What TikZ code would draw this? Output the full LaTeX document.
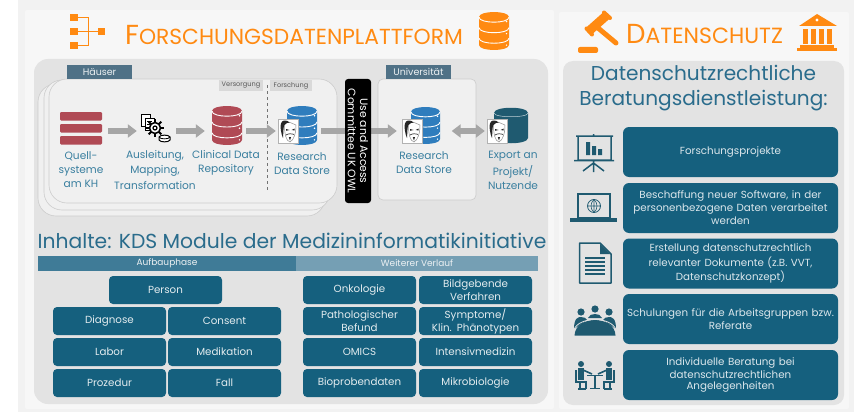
\documentclass[tikz,border=0pt]{standalone}
\usepackage{fontspec}
\setmainfont{Poppins}
\usetikzlibrary{arrows.meta}
\definecolor{orng}{HTML}{FF8A12}
\definecolor{teal}{HTML}{15607E}
\definecolor{labelc}{HTML}{3A7F9F}
\definecolor{titlec}{HTML}{2A6C8C}
\definecolor{tagc}{HTML}{4F7186}
\definecolor{redc}{HTML}{B04A55}
\definecolor{bluec}{HTML}{2F7DBD}
\definecolor{darkt}{HTML}{1F5A70}
\newcommand{\fs}[1]{\fontsize{#1}{#1}\selectfont}
\newcommand{\dbicon}[5]{% x0 y0 x1 y1 colour
  \pgfmathsetmacro{\xa}{#1}\pgfmathsetmacro{\ya}{#2}\pgfmathsetmacro{\xb}{#3}\pgfmathsetmacro{\yb}{#4}
  \pgfmathsetmacro{\kk}{(\xb-\xa)*0.17}\pgfmathsetmacro{\cc}{\kk*1.33}
  \fill[#5] (\xa,\ya+\kk) .. controls (\xa,\ya+\kk-\cc) and (\xb,\ya+\kk-\cc) .. (\xb,\ya+\kk)
    -- (\xb,\yb-\kk) .. controls (\xb,\yb-\kk+\cc) and (\xa,\yb-\kk+\cc) .. (\xa,\yb-\kk) -- cycle;
  \foreach \f in {0.0,0.32,0.64}{
    \pgfmathsetmacro{\yy}{\ya+\kk+\f*(\yb-\ya-\kk)}
    \draw[white,line width=0.9pt] (\xa,\yy) .. controls (\xa,\yy+\cc) and (\xb,\yy+\cc) .. (\xb,\yy);
  }
  \foreach \f in {0.25,0.57,0.87}{
    \fill[white] (\xb-2.5,{\ya+\f*(\yb-\ya)}) circle[radius=0.8];
  }
}
\newcommand{\maskicon}[2]{% top-left
  \begin{scope}[shift={(#1,#2)}]
    \fill[white] (0,0) rectangle (20,24);
    \draw[black!30,line width=0.5pt] (0,0) rectangle (20,24);
    \fill[black!85] (6,1.5) .. controls (2.5,2) and (2,7) .. (3,12) .. controls (3.5,15) and (4,17) .. (5,19)
      .. controls (5.5,14) and (5,9) .. (6.5,6) .. controls (8,4) and (10,3.5) .. (12,3.5) .. controls (10,2) and (8,1.2) .. (6,1.5) -- cycle;
    \draw[black!45,line width=0.5pt] (6.5,6) .. controls (6.5,15) and (8,22) .. (12,23) .. controls (16,21) and (18,14) .. (18,6) (12,3.5) -- (18,6);
    \fill[black!85] (8,10) -- (11.5,11) -- (8,11.8) -- cycle;
    \fill[black!85] (16.5,9.5) -- (13.5,11) -- (16.5,11.5) -- cycle;
    \draw[black!80,line width=0.7pt] (8,16) .. controls (10,14.5) and (14,14.5) .. (16,15.5);
    \fill[black!85] (10.8,18) -- (13,18) -- (12,21.5) -- cycle;
  \end{scope}
}
\tikzset{
  modbox/.style={fill=teal,rounded corners=4pt,text=white!88!teal,align=center,inner sep=0pt,font=\fs{10.3},text width=#1-4pt,minimum height=28pt,minimum width=#1},
  modbox/.default=113pt,
  lbl/.style={text=labelc,align=center,inner sep=0pt,font=\fs{10.6}},
  tag/.style={fill=tagc,text=white!90!tagc,inner sep=0pt,minimum height=14pt,font=\fs{9.5}},
  graytag/.style={fill=black!15,text=black!65,inner sep=0pt,minimum height=11pt,font=\fs{6.6}},
  stackbox/.style={fill=black!6,draw=black!20,line width=0.6pt,rounded corners=18pt},
  flow/.style={draw=black!35,line width=6pt,-{Triangle[length=9pt,width=13pt]}},
  flowboth/.style={draw=black!35,line width=6pt,{Triangle[length=9pt,width=13pt]}-{Triangle[length=9pt,width=13pt]}},
  iconnode/.style={inner sep=0pt,minimum height=26pt},
  orangehead/.style={text=orng,inner sep=0pt,anchor=west},
  rbox/.style={fill=teal,rounded corners=6pt,text=white!85!teal,align=center,inner sep=0pt,font=\fs{10.3},minimum width=215pt,minimum height=50pt,text width=214pt},
}
\begin{document}
\begin{tikzpicture}[x=1pt,y=-1pt]
\useasboundingbox (0,0) rectangle (854,412);
\fill[white] (0,0) rectangle (854,412);
\fill[black!5] (18,0) rectangle (854,412);
\fill[black!3,rounded corners=2pt] (25,10) rectangle (554,409);
\fill[black!3,rounded corners=2pt] (559,12) rectangle (849,409);
\fill[black!11,rounded corners=14pt] (34,59) rectangle (548,404);
\fill[black!11,rounded corners=10pt] (563,61) rectangle (844,405);

% header left
\foreach \y in {14,28,42}{\fill[orng] (70,\y) rectangle (78,\y+7);}
\fill[orng] (98,28) rectangle (105,35);
\draw[orng,line width=0.9pt] (78,17.5) -- (88,17.5) -- (88,45.5) -- (78,45.5) (78,31.5) -- (98,31.5);
\node[orangehead] (title1) at (125,35) {\fs{27.5}F\fs{21.8}ORSCHUNGSDATENPLATTFORM};
\dbicon{479}{12}{509}{50}{orng}

% header right
\node[orangehead] (title2) at (626,34) {\fs{27.5}D\fs{22}ATENSCHUTZ};
\draw[orng,line width=5pt,line cap=round] (598,28) -- (616,43);
\draw[orng,line width=9pt] (589,31) -- (607,15);
\draw[orng,line width=4pt,line cap=round] (586.5,28.5) -- (592,34.5);
\draw[orng,line width=4pt,line cap=round] (604,12.5) -- (610,18);
\fill[orng,rounded corners=2pt] (578,47) rectangle (598,53);
\fill[orng] (817,14) -- (837,26) -- (799,26) -- cycle;
\fill[white] (817,20) circle[radius=1.6];
\foreach \x in {803,811,819,827}{\fill[orng] (\x,29) rectangle (\x+5,44);}
\fill[orng] (800,45) rectangle (834,48);
\fill[orng] (797,48) rectangle (837,51);

% stacked houses
\draw[stackbox] (38,84) rectangle (325,216);
\draw[stackbox] (44,80) rectangle (330,210);
\draw[stackbox] (49,79) rectangle (337,203);
\node[tag,minimum width=65pt] (haeuser) at (99.5,72) {Häuser};
\node[graytag,minimum width=44pt] (versorgung) at (241,85.5) {Versorgung};
\node[graytag,minimum width=42pt] (forschung) at (291,85.5) {Forschung};
\coordinate (dashtop) at (267,85);
\coordinate (dashbot) at (267,192);
\draw[black!55,dashed,line width=0.7pt] (dashtop) -- (dashbot);
% university
\draw[fill=black!6,draw=black!20,line width=0.6pt,rounded corners=5pt] (378,79) rectangle (476,200);
\node[tag,minimum width=65pt] (uni) at (418.5,72) {Universität};

% icons as anchors
\node[iconnode,minimum width=42pt] (quell) at (81,131) {};
\foreach \y in {112,124,136}{\fill[redc,rounded corners=1.2pt] (60,\y) rectangle (102,\y+8.5);}
\node[iconnode,minimum width=31pt] (gears) at (154.5,131) {};
% gears icon
\draw[black,line width=0.8pt,fill=white] (141,114) rectangle (150,126);
\draw[black,line width=0.8pt,fill=white] (145,118) rectangle (154,130);
\draw[black,line width=0.6pt] (147,121) -- (152,121) (147,124) -- (152,124);
\foreach \a in {0,45,...,315}{
  \draw[black,line width=2pt] ({155+6*cos(\a)},{128+6*sin(\a)}) -- ({155+9*cos(\a)},{128+9*sin(\a)});
}
\draw[black,line width=1.6pt,fill=white] (155,128) circle[radius=5.5];
\draw[black,line width=1.2pt] (155,128) circle[radius=2];
\draw[black,line width=1pt,fill=white] (159,137) .. controls (160,134.5) and (169,134.5) .. (170,137) -- (170,140) .. controls (169,142.5) and (160,142.5) .. (159,140) -- cycle;
\draw[black,line width=0.8pt] (159,137) .. controls (160,139.5) and (169,139.5) .. (170,137);

\node[iconnode,minimum width=30pt] (cdr) at (227,131) {};
\dbicon{212}{106}{242}{145}{redc}
\node[iconnode,minimum width=30pt] (rds1) at (302,131) {};
\dbicon{287}{106}{317}{145}{bluec}
\node[iconnode,minimum width=20pt] (mask1) at (288,131) {};
\maskicon{278}{119}
\node[iconnode,minimum width=30pt] (rds2) at (425.5,131) {};
\dbicon{411}{107}{440}{144}{bluec}
\node[iconnode,minimum width=20pt] (mask2) at (412,131) {};
\maskicon{402}{119}
% export cylinder
\node[iconnode,minimum width=34pt] (export) at (511,131) {};
\fill[darkt] (494,113) .. controls (494,106) and (528,106) .. (528,113) -- (528,138) .. controls (528,145) and (494,145) .. (494,138) -- cycle;
\draw[white!70!darkt,line width=0.5pt] (494,113) .. controls (494,118) and (528,118) .. (528,113);
\node[iconnode,minimum width=20pt] (mask3) at (497,131) {};
\maskicon{487}{119}

% arrows
\draw[flow,shorten <=6pt,shorten >=2pt] (quell) -- (gears);
\draw[flow,shorten <=6pt,shorten >=7pt] (gears) -- (cdr);
\draw[flow,shorten <=4pt,shorten >=2pt] (cdr) -- (mask1);
\draw[flow,shorten <=4pt,shorten >=5pt] (rds1) -- (mask2);
\draw[flowboth,shorten <=11pt,shorten >=2pt] (rds2) -- (mask3);

% committee box
\node[fill=black,text=white,rounded corners=3pt,rotate=-90,minimum width=124pt,minimum height=26pt,inner sep=0pt,align=center,font=\fs{10.8}] (committee) at (358,141) {Use and Access\\[1.5pt]Committee UK OWL};

% labels
\node[lbl] (l1) at (81,170) {Quell-\\[3.4pt]systeme\\[3.4pt]am KH};
\node[lbl] (l2) at (155,170) {Ausleitung,\\[3.4pt]Mapping,\\[3.4pt]Transformation};
\node[lbl] (l3) at (226,163) {Clinical Data\\[3.4pt]Repository};
\node[lbl] (l4) at (302,164) {Research\\[3.4pt]Data Store};
\node[lbl] (l5) at (424,163) {Research\\[3.4pt]Data Store};
\node[lbl] (l6) at (513,170) {Export an\\[3.4pt]Projekt/\\[3.4pt]Nutzende};

% Inhalte
\node[text=titlec,inner sep=0pt,font=\fs{20.3}] (inhalte) at (292,241) {Inhalte: KDS Module der Medizininformatikinitiative};
\fill[titlec!90!white] (38,256) rectangle (296,271);
\fill[titlec!65!white] (296,256) rectangle (538,271);
\node[text=white!90!tagc,font=\fs{9},inner sep=0pt] (aufbau) at (167,263.5) {Aufbauphase};
\node[text=white!90!tagc,font=\fs{9},inner sep=0pt] (weiter) at (417,263.5) {Weiterer Verlauf};

\node[modbox] (person) at (165.5,290) {Person};
\node[modbox] (diagnose) at (109.5,321) {Diagnose};
\node[modbox] (consent) at (224.5,321) {Consent};
\node[modbox] (labor) at (109.5,352) {Labor};
\node[modbox] (medikation) at (224.5,352) {Medikation};
\node[modbox] (prozedur) at (109.5,383) {Prozedur};
\node[modbox] (fall) at (224.5,383) {Fall};
\node[modbox] (onko) at (359.5,290) {Onkologie};
\node[modbox] (bild) at (475.5,290) {Bildgebende\\[1.5pt]Verfahren};
\node[modbox] (patho) at (359.5,321) {Pathologischer\\[1.5pt]Befund};
\node[modbox] (sympt) at (475.5,321) {Symptome/\\[1.5pt]Klin. Phänotypen};
\node[modbox] (omics) at (359.5,352) {OMICS};
\node[modbox] (intensiv) at (475.5,352) {Intensivmedizin};
\node[modbox] (biop) at (359.5,383) {Bioprobendaten};
\node[modbox] (mikro) at (475.5,383) {Mikrobiologie};

% right panel
\node[text=titlec,inner sep=0pt,align=center,font=\fs{20.1}] (rtitle) at (703.5,88) {Datenschutzrechtliche\\[5pt]Beratungsdienstleistung:};
\node[rbox] (r1) at (730.5,152) {Forschungsprojekte};
\node[rbox] (r2) at (730.5,208) {Beschaffung neuer Software, in der\\[1.5pt]personenbezogene Daten verarbeitet\\[1.5pt]werden};
\node[rbox] (r3) at (730.5,263.5) {Erstellung datenschutzrechtlich\\[1.5pt]relevanter Dokumente (z.B. VVT,\\[1.5pt]Datenschutzkonzept)};
\node[rbox] (r4) at (730.5,319) {Schulungen für die Arbeitsgruppen bzw.\\[1.5pt]Referate};
\node[rbox] (r5) at (730.5,375) {Individuelle Beratung bei\\[1.5pt]datenschutzrechtlichen\\[1.5pt]Angelegenheiten};

% presentation icon
\draw[darkt,line width=1.5pt] (576,136) -- (613,136) (578,136) -- (578,160) -- (611,160) -- (611,136) (574,160.5) -- (614,160.5) (593.5,134) -- (593.5,136) (593.5,160) -- (593.5,172) (593.5,163) -- (583,171) (593.5,163) -- (604,171);
\fill[darkt] (586,142) rectangle (590,155) (592,146) rectangle (596,155) (598,149) rectangle (602,155);
% laptop icon
\draw[darkt,line width=1.6pt] (578,194) rectangle (610,218);
\fill[darkt] (570,218) rectangle (617,222);
\draw[darkt,line width=0.8pt] (594,206) circle[radius=6.5] (587.5,206) -- (600.5,206) (594,199.5) -- (594,212.5);
\draw[darkt,line width=0.6pt] (594,199.5) .. controls (590,203) and (590,209) .. (594,212.5) (594,199.5) .. controls (598,203) and (598,209) .. (594,212.5);
% document icon
\draw[darkt,line width=1.5pt,line join=round] (579.5,243) -- (600,243) -- (611,254) -- (611,283) -- (579.5,283) -- cycle;
\fill[darkt] (600,244) -- (610,254) -- (600,254) -- cycle;
\foreach \y in {258,262,266,270,274}{\draw[darkt,line width=1.2pt] (585,\y) -- (605,\y);}
% meeting icon
\foreach \x/\y in {581/312,595/309,609/312}{\fill[darkt] (\x,\y) circle[radius=3.6];}
\fill[darkt] (574,329) .. controls (574,318) and (578,317) .. (581,317) .. controls (584,317) and (586,318) .. (587,320) -- cycle;
\fill[darkt] (603,320) .. controls (604,318) and (606,317) .. (609,317) .. controls (612,317) and (616,318) .. (616,329) -- cycle;
\fill[darkt] (588,318) .. controls (589,315) and (592,314) .. (595,314) .. controls (598,314) and (601,315) .. (602,318) -- cycle;
\fill[darkt] (574.5,335.5) .. controls (575,325) and (585,320) .. (595,320) .. controls (605,320) and (615,325) .. (615.5,335.5) -- cycle;
\draw[black!11,line width=0.8pt] (574,330) .. controls (576,323) and (586,319.5) .. (595,319.5) .. controls (604,319.5) and (614,323) .. (616,330);
% desk icon
\foreach \x in {581,609}{\fill[darkt] (\x,364) circle[radius=3];}
\fill[darkt] (578,368) rectangle (584,380);
\fill[darkt] (606,368) rectangle (612,380);
\draw[darkt,line width=1.6pt] (583,370) -- (592,374) (607,370) -- (598,374);
\draw[darkt,line width=1.6pt] (587,375.5) -- (603,375.5) (595,375.5) -- (595,388) (590,388.5) -- (600,388.5);
\draw[darkt,line width=1.6pt] (576,370) -- (576,382) -- (586,382) -- (586,389) (614,370) -- (614,382) -- (604,382) -- (604,389);
\draw[darkt,line width=1.6pt] (578,389) -- (586,389) (604,389) -- (612,389) (580,382) -- (580,389) (610,382) -- (610,389);
\end{tikzpicture}
\end{document}
